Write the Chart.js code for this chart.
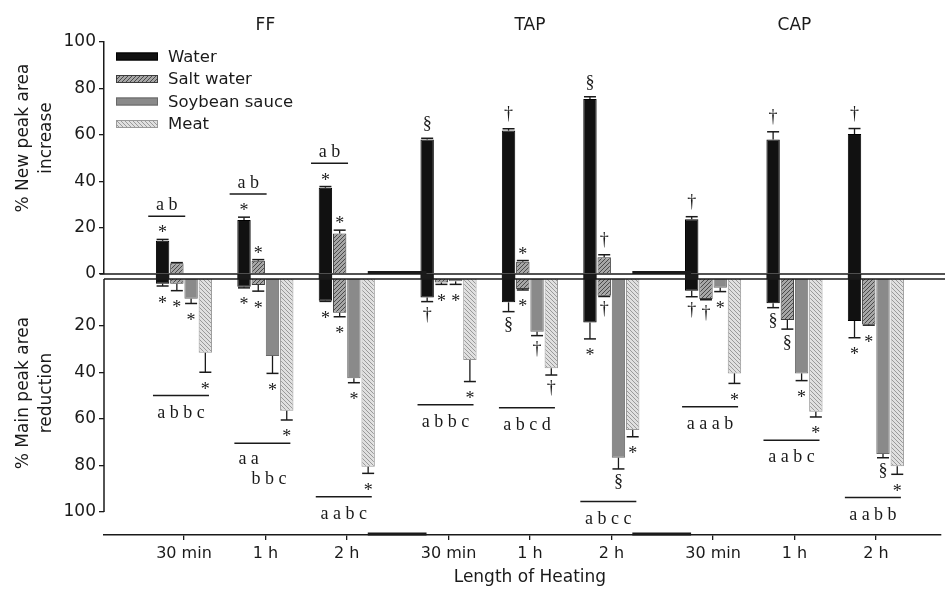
<!DOCTYPE html>
<html lang="en">
<head>
  <meta charset="UTF-8">
  <title>Peak area changes during heating</title>
  <style>
    body {
      margin: 0;
      background: #fff;
    }
    .chart-box {
      position: relative;
      width: 945px;
      height: 598px;
    }
  </style>
</head>
<body>
  <div class="chart-box">
    <canvas id="peakChart"></canvas>
  </div>

  <script src="https://cdn.jsdelivr.net/npm/chart.js"></script>
  <script>
    // categories
    const panels = ['FF', 'TAP', 'CAP'];
    const times = ['30 min', '1 h', '2 h'];
    const series = ['Water', 'Salt water', 'Soybean sauce', 'Meat'];

    // upper panel: % new peak area increase (FF 30min .. CAP 2h)
    const waterUp = [14.3, 23.3, 37.2, 58.0, 61.8, 75.4, 23.6, 58.0, 60.3];
    const waterUpErr = [0.6, 1.2, 0.5, 0.5, 0.8, 1.0, 1.1, 3.3, 2.4];
    const saltUp = [4.6, 5.7, 17.5, null, 5.3, 7.2, null, null, null];
    const saltUpErr = [0.3, 0.5, 1.4, 0, 0.5, 1.1, 0, 0, 0];
    const waterUpMark = ['*', '*', '*', '§', '†', '§', '†', '†', '†'];
    const saltUpMark = ['', '*', '*', '', '*', '†', '', '', ''];
    const upLetters = ['a b', 'a b', 'a b', '', '', '', '', '', ''];

    // lower panel: % main peak area reduction
    const waterDown = [2.0, 3.3, 9.3, 7.9, 10.0, 18.7, 5.0, 10.4, 18.0];
    const waterDownErr = [1.0, 0.5, 0.3, 1.8, 4.0, 7.0, 2.6, 1.9, 7.2];
    const saltDown = [2.0, 2.6, 14.5, 1.5, 4.3, 7.2, 8.6, 17.6, 19.5];
    const saltDownErr = [3.0, 2.6, 1.7, 0.8, 0.4, 0.3, 0.3, 3.9, 0.3];
    const soyDown = [8.5, 33.0, 42.6, 1.0, 22.6, 76.7, 3.7, 40.5, 75.1];
    const soyDownErr = [2.0, 7.5, 1.9, 1.3, 1.7, 4.8, 1.7, 3.1, 1.6];
    const meatDown = [31.6, 56.5, 80.6, 34.8, 38.3, 64.8, 40.5, 57.0, 80.3];
    const meatDownErr = [8.4, 4.0, 2.8, 9.2, 2.9, 2.9, 4.3, 2.2, 3.5];
    const waterDownMark = ['*', '*', '*', '†', '§', '*', '†', '§', '*'];
    const saltDownMark = ['*', '*', '*', '*', '*', '†', '†', '§', '*'];
    const soyDownMark = ['*', '*', '*', '*', '†', '§', '*', '*', '§'];
    const meatDownMark = ['*', '*', '*', '*', '†', '*', '*', '*', '*'];
    const downLetters = ['a b b c', ['a a', 'b b c'], 'a a b c', 'a b b c', 'a b c d', 'a b c c', 'a a a b', 'a a b c', 'a a b b'];

    const yTicks = [0, 20, 40, 60, 80, 100];

    // layout: time points 4 units apart, panels 13 units apart
    const TIME_STEP = 4;
    const PANEL_STEP = 13;
    const SANS = '"DejaVu Sans", sans-serif';
    const SERIF = '"Liberation Serif", "DejaVu Serif", serif';
    const INK = '#1a1a1a';

    function slot(i) {
      return Math.floor(i / 3) * PANEL_STEP + (i % 3) * TIME_STEP;
    }

    function hatch(bg, fg, dir) {
      const c = document.createElement('canvas');
      c.width = 4;
      c.height = 4;
      const g = c.getContext('2d');
      g.fillStyle = bg;
      g.fillRect(0, 0, 4, 4);
      g.strokeStyle = fg;
      g.lineWidth = 1;
      g.beginPath();
      if (dir > 0) {
        g.moveTo(0, 4); g.lineTo(4, 0);
        g.moveTo(-1, 1); g.lineTo(1, -1);
        g.moveTo(3, 5); g.lineTo(5, 3);
      } else {
        g.moveTo(0, 0); g.lineTo(4, 4);
        g.moveTo(-1, 3); g.lineTo(1, 5);
        g.moveTo(3, -1); g.lineTo(5, 1);
      }
      g.stroke();
      return g.createPattern(c, 'repeat');
    }

    const fills = {
      water: '#111111',
      salt: hatch('#a6a6a6', '#4a4a4a', 1),
      soy: '#8a8a8a',
      meat: hatch('#e0e0e0', '#9a9a9a', -1)
    };
    const edges = { water: '#000000', salt: '#3c3c3c', soy: '#686868', meat: '#9a9a9a' };

    function bar(key, label, values, errs, marks, axis) {
      return {
        label: label,
        data: values.map((v, i) => ({ x: slot(i), y: v })),
        stack: key,
        yAxisID: axis,
        backgroundColor: fills[key],
        borderColor: edges[key],
        borderWidth: 1,
        errs: errs,
        marks: marks
      };
    }

    function line(ctx, x1, y1, x2, y2, w) {
      ctx.lineWidth = w;
      ctx.beginPath();
      ctx.moveTo(x1, y1);
      ctx.lineTo(x2, y2);
      ctx.stroke();
    }

    function mark(ctx, s, x, cap, up) {
      const m = ctx.measureText(s);
      const a = m.actualBoundingBoxAscent, d = m.actualBoundingBoxDescent;
      if (up) ctx.fillText(s, x, cap - 7 - d);
      else ctx.fillText(s, x, cap + 13 + (a - d) / 2);
    }

    // error bars, significance marks, letter groups, titles and legend
    const annotate = {
      id: 'annotate',
      afterDraw(chart) {
        const ctx = chart.ctx;
        const area = chart.chartArea;
        const xS = chart.scales.x, yT = chart.scales.yTop, yB = chart.scales.yBot;
        const sets = chart.data.datasets;
        const zeroT = yT.getPixelForValue(0), zeroB = yB.getPixelForValue(0);
        ctx.save();
        ctx.strokeStyle = INK;
        ctx.fillStyle = INK;

        // water bars run through the gap between the panels
        chart.getDatasetMeta(2).data.forEach((el, i) => {
          if (waterUp[i] == null) return;
          ctx.fillRect(el.x - el.width / 2, zeroT, el.width, zeroB - zeroT);
        });

        // panel split lines and lower axis line (stops at 100)
        line(ctx, area.left - 4, zeroT, chart.width, zeroT, 1.5);
        line(ctx, area.left, zeroB, chart.width, zeroB, 1.5);
        line(ctx, area.left, zeroB, area.left, yB.getPixelForValue(100), 1.5);
        for (let p = 1; p < panels.length; p++) {
          const a = xS.getPixelForValue(slot(p * 3 - 1)) + 21;
          const b = xS.getPixelForValue(slot(p * 3)) - 22;
          line(ctx, a, area.bottom - 1, b, area.bottom - 1, 3);
          line(ctx, a, zeroT - 1.5, b, zeroT - 1.5, 3);
        }

        // error bars + marks
        ctx.textAlign = 'center';
        ctx.textBaseline = 'alphabetic';
        ctx.font = '18px ' + SERIF;
        sets.forEach((ds, di) => {
          const meta = chart.getDatasetMeta(di);
          const up = ds.yAxisID === 'yTop';
          const sc = up ? yT : yB;
          ds.data.forEach((p, i) => {
            if (p.y == null) return;
            const x = meta.data[i].x;
            const end = sc.getPixelForValue(p.y);
            const cap = sc.getPixelForValue(p.y + ds.errs[i]);
            line(ctx, x, end, x, cap, 1.3);
            line(ctx, x - 6, cap, x + 6, cap, 1.5);
            if (ds.marks[i]) mark(ctx, ds.marks[i], x, cap, up);
          });
        });

        // letter groups
        function reach(idx, i) {
          let ext = -1, sym = '*';
          idx.forEach(d => {
            const v = sets[d].data[i].y;
            if (v == null) return;
            const e = v + sets[d].errs[i];
            if (e > ext) { ext = e; sym = sets[d].marks[i] || '*'; }
          });
          return ext + (sym === '*' ? 10 : 14);
        }
        const barX = (d, i) => chart.getDatasetMeta(d).data[i].x;
        for (let i = 0; i < waterUp.length; i++) {
          if (upLetters[i]) {
            const cx = (barX(2, i) + barX(3, i)) / 2 - 3;
            const y = yT.getPixelForValue(reach([0, 1], i));
            line(ctx, cx - 18.5, y, cx + 18.5, y, 1.5);
            ctx.textAlign = 'center';
            ctx.fillText(upLetters[i], cx, y - 6);
          }
          const txt = downLetters[i];
          if (txt) {
            const cx = (barX(2, i) + barX(5, i)) / 2 - 3;
            const y = yB.getPixelForValue(reach([2, 3, 4, 5], i));
            line(ctx, cx - 28, y, cx + 28, y, 1.5);
            if (Array.isArray(txt)) {
              ctx.textAlign = 'left';
              ctx.fillText(txt[0], cx - 24, y + 21);
              ctx.textAlign = 'right';
              ctx.fillText(txt[1], cx + 24, y + 41);
            } else {
              ctx.textAlign = 'center';
              ctx.fillText(txt, cx, y + 22);
            }
          }
        }

        // panel titles and x title
        ctx.textAlign = 'center';
        ctx.textBaseline = 'middle';
        ctx.font = '17px ' + SANS;
        panels.forEach((name, p) => {
          ctx.fillText(name, xS.getPixelForValue(slot(p * 3 + 1)), 26);
        });
        ctx.fillText('Length of Heating', xS.getPixelForValue(slot(4)), 578);

        // y titles
        [[['% New peak area', 'increase'], 138], [['% Main peak area', 'reduction'], 393]].forEach(([rows, cy]) => {
          ctx.save();
          ctx.translate(0, cy);
          ctx.rotate(-Math.PI / 2);
          ctx.fillText(rows[0], 0, 24);
          ctx.fillText(rows[1], 0, 47);
          ctx.restore();
        });

        // legend
        ctx.font = '16.5px ' + SANS;
        ctx.textAlign = 'left';
        const keys = ['water', 'salt', 'soy', 'meat'];
        series.forEach((name, k) => {
          const y = 56.5 + k * 22.5;
          ctx.fillStyle = fills[keys[k]];
          ctx.fillRect(116, y - 4, 42, 8);
          ctx.strokeStyle = edges[keys[k]];
          ctx.lineWidth = 1;
          ctx.strokeRect(116.5, y - 3.5, 41, 7);
          ctx.fillStyle = INK;
          ctx.fillText(name, 168, y + 1);
        });
        ctx.restore();
      }
    };

    Chart.defaults.font.family = SANS;
    Chart.defaults.font.size = 16;
    Chart.defaults.color = INK;

    const axisGrid = {
      drawOnChartArea: false,
      drawTicks: true,
      offset: false,
      tickLength: 5,
      color: INK,
      lineWidth: 1.3
    };

    new Chart(document.getElementById('peakChart'), {
      type: 'bar',
      data: {
        datasets: [
          bar('water', series[0], waterUp, waterUpErr, waterUpMark, 'yTop'),
          bar('salt', series[1], saltUp, saltUpErr, saltUpMark, 'yTop'),
          bar('water', series[0], waterDown, waterDownErr, waterDownMark, 'yBot'),
          bar('salt', series[1], saltDown, saltDownErr, saltDownMark, 'yBot'),
          bar('soy', series[2], soyDown, soyDownErr, soyDownMark, 'yBot'),
          bar('meat', series[3], meatDown, meatDownErr, meatDownMark, 'yBot')
        ]
      },
      options: {
        responsive: true,
        maintainAspectRatio: false,
        animation: false,
        categoryPercentage: 0.7,
        barPercentage: 0.94,
        layout: { padding: { top: 42, right: 4, left: 0, bottom: 0 } },
        plugins: {
          legend: { display: false },
          tooltip: { enabled: false }
        },
        scales: {
          x: {
            type: 'linear',
            offset: false,
            min: -3.93,
            max: 37.2,
            afterBuildTicks: (scale) => {
              scale.ticks = waterUp.map((_, i) => ({ value: slot(i) }));
            },
            afterFit: (scale) => { scale.height = 63; },
            ticks: {
              padding: 4,
              callback: (v, i) => times[i % 3]
            },
            grid: axisGrid,
            border: { display: true, color: INK, width: 1.5 }
          },
          yTop: {
            type: 'linear',
            position: 'left',
            stack: 'panels',
            stackWeight: 232,
            weight: 1,
            stacked: false,
            min: 0,
            max: 100,
            afterBuildTicks: (scale) => {
              scale.ticks = yTicks.map(v => ({ value: v }));
            },
            afterFit: (scale) => { scale.width = 104; },
            ticks: { padding: 3, font: { size: 17 } },
            grid: axisGrid,
            border: { display: true, color: INK, width: 1.5 }
          },
          yBot: {
            type: 'linear',
            position: 'left',
            stack: 'panels',
            stackWeight: 261,
            weight: 0,
            stacked: false,
            reverse: true,
            min: -2.15,
            max: 109.85,
            afterBuildTicks: (scale) => {
              scale.ticks = yTicks.slice(1).map(v => ({ value: v }));
            },
            afterFit: (scale) => { scale.width = 104; },
            ticks: { padding: 3, font: { size: 17 } },
            grid: axisGrid,
            border: { display: false }
          }
        }
      },
      plugins: [annotate]
    });
  </script>
</body>
</html>
